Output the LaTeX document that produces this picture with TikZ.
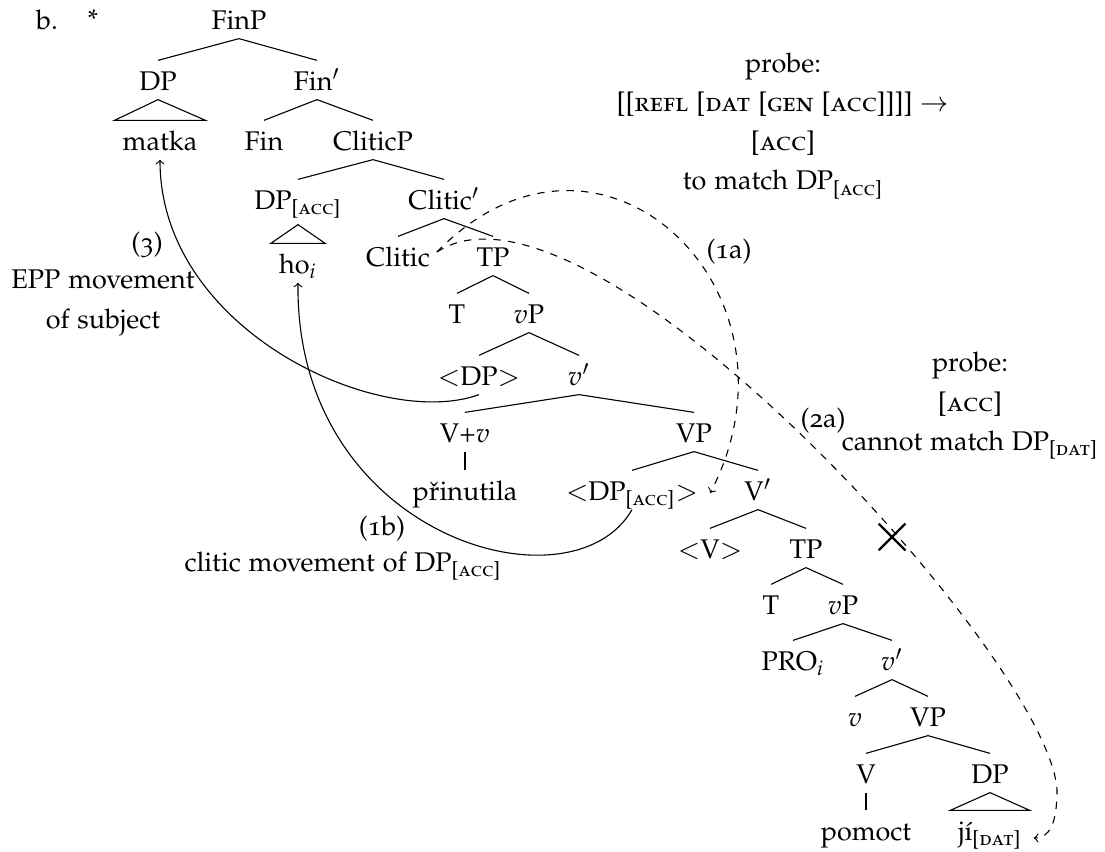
\documentclass[tikz,border=0pt]{standalone}
\usepackage[T1]{fontenc}
\usepackage[sc,osf]{mathpazo}
\usepackage{amsmath}
\usetikzlibrary{arrows.meta,shapes.misc,calc}

\newcommand{\caseacc}{\textsubscript{[\textsc{acc}]}}
\newcommand{\casedat}{\textsubscript{[\textsc{dat}]}}

\begin{document}
\begin{tikzpicture}[
  x=0.4074pt, y=-0.4074pt,
  >=to,
  font=\fontsize{11}{16}\selectfont,
  % tree labels share one height so the branches line up
  cnode/.style = {inner sep=1.5pt, text height=10.4pt, text depth=2.2pt},
  note/.style = {inner sep=0pt, align=center},
  branch/.style = {line width=0.45pt},
  move/.style = {->, line width=0.45pt},
  probeline/.style = {->, dashed, line width=0.45pt},
  blocked/.style = {draw, cross out, minimum size=10pt, inner sep=0pt, line width=0.9pt}
]

\useasboundingbox (0,0) rectangle (1105,852);

% ---- tree ----
\node[cnode] (exno) at (47,19) {b.};
\node[cnode] (star) at (93,18) {*};
\node[cnode] (finp) at (239,19) {FinP};

\node[cnode] (dp) at (158,80) {DP};
\node[cnode] (finbar) at (317,80) {Fin$'$};

\node[cnode] (matka) at (160,140) {matka};
\node[cnode] (fin) at (264,140) {Fin};
\node[cnode] (cliticp) at (373,140) {CliticP};

\node[cnode] (dpacc) at (298,199) {DP\caseacc};
\node[cnode] (cliticbar) at (444,199) {Clitic$'$};

\node[cnode] (hoi) at (298,263) {ho$_i$};
\node[cnode] (clitic) at (398,256) {Clitic};
\node[cnode] (tp) at (493,256) {TP};

\node[cnode] (t) at (457,313) {T};
\node[cnode] (vp) at (529,313) {$v$P};

\node[cnode] (ldp) at (479,375) {$<$DP$>$};
\node[cnode] (vbar) at (579,375) {$v'$};

\node[cnode] (vv) at (465,432) {V+$v$};
\node[cnode] (vpb) at (694,432) {VP};

\node[cnode] (prinutila) at (465,490) {p\v{r}inutila};
\node[cnode] (tdpacc) at (632,490) {$<$DP\caseacc$>$};
\node[cnode] (vbarb) at (758,490) {V$'$};

\node[cnode] (tv) at (710,548) {$<$V$>$};
\node[cnode] (tpb) at (806,548) {TP};

\node[cnode] (tb) at (771,604) {T};
\node[cnode] (vpc) at (843,604) {$v$P};

\node[cnode] (pro) at (793,660) {PRO$_i$};
\node[cnode] (vbarc) at (892,660) {$v'$};

\node[cnode] (vc) at (855,716) {$v$};
\node[cnode] (vpd) at (928,716) {VP};

\node[cnode] (vd) at (866,773) {V};
\node[cnode] (dpd) at (990,773) {DP};

\node[cnode] (pomoct) at (866,830) {pomoct};
\node[cnode] (ji) at (990,830) {j\'{\i}\casedat};

% ---- branches ----
\draw[branch] (finp.south) -- (dp.north) (finp.south) -- (finbar.north);
\draw[branch] (dp.south) -- ($(matka.north west)+(-4,0)$) -- ($(matka.north east)+(4,0)$) -- cycle;
\draw[branch] (finbar.south) -- (fin.north) (finbar.south) -- (cliticp.north);
\draw[branch] (cliticp.south) -- (dpacc.north) (cliticp.south) -- (cliticbar.north);
\draw[branch] ($(dpacc.south)+(0,6)$) -- ($(hoi.north west)+(-4,0)$) -- ($(hoi.north east)+(4,0)$) -- cycle;
\draw[branch] (cliticbar.south) -- (clitic.north) (cliticbar.south) -- (tp.north);
\draw[branch] (tp.south) -- (t.north) (tp.south) -- (vp.north);
\draw[branch] (vp.south) -- (ldp.north) (vp.south) -- (vbar.north);
\draw[branch] (vbar.south) -- (vv.north) (vbar.south) -- (vpb.north);
\draw[branch] (vv.south) -- (prinutila.north);
\draw[branch] (vpb.south) -- (tdpacc.north) (vpb.south) -- (vbarb.north);
\draw[branch] (vbarb.south) -- (tv.north) (vbarb.south) -- (tpb.north);
\draw[branch] (tpb.south) -- (tb.north) (tpb.south) -- (vpc.north);
\draw[branch] (vpc.south) -- (pro.north) (vpc.south) -- (vbarc.north);
\draw[branch] (vbarc.south) -- (vc.north) (vbarc.south) -- (vpd.north);
\draw[branch] (vpd.south) -- (vd.north) (vpd.south) -- (dpd.north);
\draw[branch] (vd.south) -- (pomoct.north);
\draw[branch] (dpd.south) -- ($(ji.north west)+(-4,0)$) -- ($(ji.north east)+(4,0)$) -- cycle;

% ---- annotations ----
\node[note] (probeacc) at (783,126) {probe:\\{}[[\textsc{refl} [\textsc{dat} [\textsc{gen} [\textsc{acc}]]]] $\rightarrow$\\{}[\textsc{acc}]\\to match DP\caseacc};
\node[note] (probedat) at (970,406) {probe:\\{}[\textsc{acc}]\\cannot match DP\casedat};
\node[note] (l1a) at (729,252) {(1a)};
\node[note] (l2a) at (823,421) {(2a)};
\node[note] (l1b) at (382,529) {(1b)};
\node[note] (cliticmove) at (343,566) {clitic movement of DP\caseacc};
\node[note] (l3) at (147,245) {(3)};
\node[note] (eppmove) at (103,303) {EPP movement\\of subject};
\node[blocked] (cross) at (892,537) {};

% ---- movement and probing ----
\draw[move] (ldp.south) .. controls +(-99,36) and +(0,171) .. (matka.south);
\draw[move] (tdpacc.south) .. controls +(-60,105) and +(-3,255) .. (hoi.south);
\draw[probeline] ($(clitic.east)+(3,-4)$) .. controls +(163,-167) and +(105,-203) .. ($(tdpacc.east)+(8,3)$);
\coordinate (bend) at (1057,790);
\draw[probeline] ($(clitic.east)+(3,-4)$) .. controls +(152,-100) and +(-7,-130) .. (bend)
  .. controls +(0,35) and +(15,0) .. ($(ji.east)+(8,8)$);

\end{tikzpicture}
\end{document}
